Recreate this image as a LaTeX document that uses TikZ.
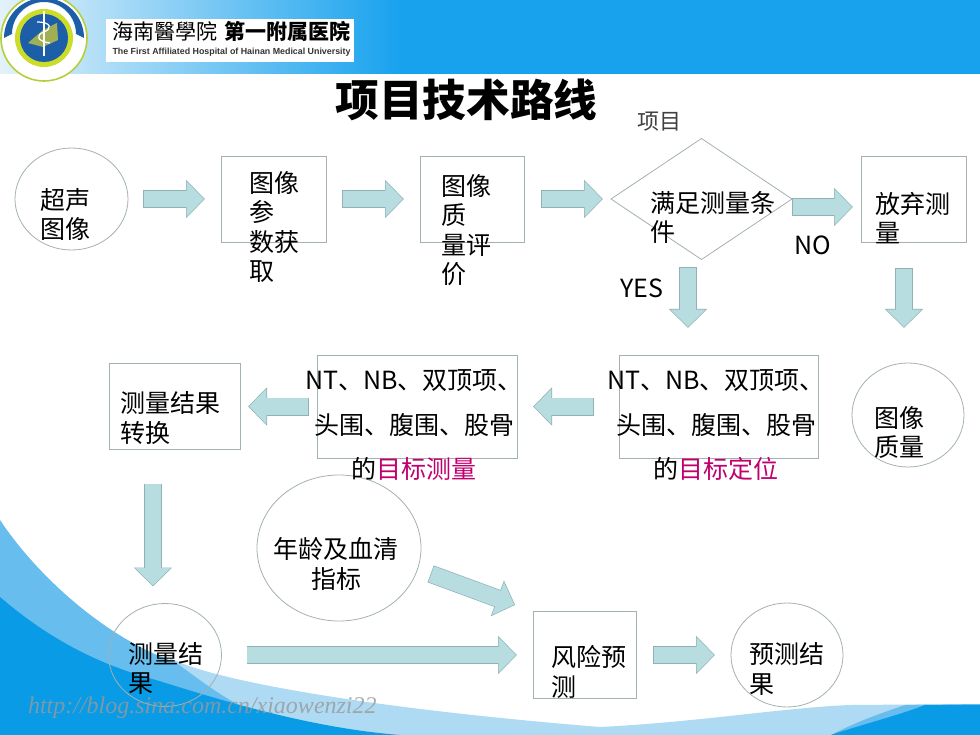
\documentclass[tikz,border=0pt]{standalone}
\usepackage{fontspec}
\setmainfont{Noto Sans CJK SC}
\newfontfamily\latinfont{Liberation Sans}
\newfontfamily\markfont{Liberation Serif}
\usepackage{xcolor}
\usetikzlibrary{arrows.meta,positioning,shapes.geometric}
\definecolor{flowfill}{HTML}{B7DDE0}
\definecolor{flowedge}{HTML}{8FB3B5}
\definecolor{lineedge}{HTML}{A3B1B1}
\definecolor{headblue}{HTML}{18A2EE}
\definecolor{headpale}{HTML}{E4F2FA}
\definecolor{wavepale}{HTML}{AEDAF4}
\definecolor{wavemid}{HTML}{66BDEE}
\definecolor{wavedeep}{HTML}{0A9BE6}
\definecolor{keypink}{HTML}{C0006E}
\definecolor{badgeblue}{HTML}{1C5FA8}
\definecolor{badgelime}{HTML}{B5CF3A}

\begin{document}
\begin{tikzpicture}[
    x=1pt, y=-1pt,
    outer sep=0pt,
    boxnode/.style={draw=lineedge, line width=0.8pt, inner sep=0pt, fill=white},
    circnode/.style={ellipse, draw=lineedge, line width=0.8pt, inner sep=0pt},
    txt/.style={inner sep=0pt, anchor=west, align=left, font=\fontsize{25}{29.5}\selectfont},
    mid/.style={inner sep=0pt, align=center, font=\fontsize{25}{44.5}\selectfont},
    flow/.style 2 args={
      line width=16.6pt, draw=flowfill, line cap=butt,
      shorten <=#1+0.7pt, shorten >=#2+1pt,
      -{Triangle[length=17.3pt, width=33.7pt]},
      preaction={draw=flowedge, line width=18pt, shorten <=#1, shorten >=#2,
        -{Triangle[length=19pt, width=37pt]}},
    },
  ]
  \useasboundingbox (0,0) rectangle (980,735);

  % header band
  \fill[headblue] (400,0) rectangle (980,74);
  \shade[left color=headpale, right color=headblue, shading angle=90] (0,0) rectangle (400,74);
  \node[fill=white, minimum width=248pt, minimum height=43pt, inner sep=0pt] (brand) at (230,40.5) {};
  \node[inner sep=0pt, anchor=west, font=\fontsize{21}{21}\itshape\selectfont] (brandcn) at (112,31)
    {海南醫學院};
  \node[inner sep=0pt, anchor=west, font=\fontsize{21}{21}\bfseries\selectfont] (brandcnb) at (224,31)
    {第一附属医院};
  \node[inner sep=0pt, anchor=west, font=\latinfont\bfseries\fontsize{8.85}{9}\selectfont, text=black!80] (branden) at (112.5,52.5)
    {The First Affiliated Hospital of Hainan Medical University};

  % badge
  \fill[white] (44,38) circle (43);
  \draw[badgelime, line width=1.6pt] (44,38) circle (43);
  \fill[badgeblue] (4,38) arc[start angle=180, end angle=360, radius=40] -- (76,34) arc[start angle=0, end angle=-180, radius=32] -- cycle;
  \fill[white] (44,38) circle (31);
  \fill[badgelime!70!yellow] (44,38) circle (29);
  \fill[badgeblue] (44,38) circle (24);
  \fill[badgelime!60!gray] (28,43) -- (43,30) -- (57,23) -- (58,40) -- (43,47) -- cycle;
  \draw[white, line width=2.2pt] (44,11) -- (44,56);
  \draw[white, line width=1.2pt] (37,22) .. controls (52,22) and (52,29) .. (44,32) .. controls (36,35) and (36,41) .. (50,43);

  % bottom waves
  \fill[wavepale] (170,658) .. controls (200,675) and (330,705) .. (600,727)
    .. controls (700,722) and (780,708) .. (850,705) -- (980,704) -- (980,735) -- (170,735) -- cycle;
  \fill[wavemid] (0,520) .. controls (40,580) and (110,640) .. (175,662)
    .. controls (200,680) and (225,700) .. (260,716) -- (260,735) -- (0,735) -- cycle;
  \fill[wavemid] (831,735) .. controls (860,720) and (885,712) .. (905,705) -- (980,704) -- (980,735) -- cycle;
  \fill[wavedeep] (0,597) .. controls (50,640) and (100,665) .. (156,680)
    .. controls (220,700) and (310,728) .. (400,735) -- (0,735) -- cycle;
  \fill[wavedeep] (831,735) .. controls (860,725) and (900,715) .. (925,705) -- (980,705) -- (980,735) -- cycle;

  % title
  \node[inner sep=0pt, font=\fontsize{43.7}{44}\bfseries\selectfont] (title) at (466.5,100) {项目技术路线};
  \node[inner sep=0pt, text=black!75, font=\fontsize{22}{22}\selectfont] (item) at (659,122) {项目};

  % top row
  \node[circnode, minimum width=113pt, minimum height=102pt] (sono) at (71.5,199) {};
  \node[boxnode, minimum width=105pt, minimum height=86pt, right=93pt of sono] (param) {};
  \node[boxnode, minimum width=104pt, minimum height=86pt, right=94pt of param] (qual) {};
  \node[diamond, aspect=1.5, draw=lineedge, line width=0.8pt, inner sep=0pt, minimum width=181pt, minimum height=121pt, right=87pt of qual] (cond) {};
  \node[boxnode, minimum width=105pt, minimum height=86pt] (giveup) at (913.5,199) {};
  \node[circnode, minimum width=112pt, minimum height=104pt] (imgq) at (908,415) {};

  % middle row
  \node[boxnode, minimum width=199pt, minimum height=103pt] (locate) at (718.5,406.5) {};
  \node[boxnode, minimum width=200pt, minimum height=103pt, left=102pt of locate] (meas) {};
  \node[boxnode, minimum width=131pt, minimum height=86pt, left=77pt of meas] (conv) {};

  % bottom row
  \node[circnode, minimum width=113pt, minimum height=103pt] (res) at (165,655) {};
  \node[circnode, minimum width=164pt, minimum height=146pt] (age) at (339,548) {};
  \node[boxnode, minimum width=103pt, minimum height=87pt] (risk) at (584.5,655) {};
  \node[circnode, minimum width=112pt, minimum height=104pt, right=95pt of risk] (pred) {};

  % connectors
  \foreach \a/\b/\s/\e in {sono/param/15/16, param/qual/16/16, qual/cond/17/8, locate/meas/25/16, meas/conv/8/8, res/risk/25/16, risk/pred/17/16}
    \draw[flow={\s pt}{\e pt}] (\a) -- (\b);
  \draw[flow={0pt}{8pt}] ([yshift=-8pt]cond.east) -- ([yshift=-8pt]giveup.west);
  \draw[flow={8pt}{27pt}] ([xshift=-13.5pt]cond.south) -- ([xshift=-30.5pt]locate.north);
  \draw[flow={26pt}{35pt}] ([xshift=-9.5pt]giveup.south) -- ([xshift=-4pt]imgq.north);
  \draw[flow={34pt}{17pt}] ([xshift=-21.5pt]conv.south) -- ([xshift=-12pt]res.north);
  \draw[flow={14pt}{19pt}] (age.-15) -- (risk.north west);

  % labels
  \node[txt] (sonotxt) at (40,214.5) {超声\\图像};
  \node[txt] (paramtxt) at (249,227) {图像\\参\\数获\\取};
  \node[txt] (qualtxt) at (441,230) {图像\\质\\量评\\价};
  \node[txt] (condtxt) at (650,217.5) {满足测量条\\件};
  \node[txt] (giveuptxt) at (875,218) {放弃测\\量};
  \node[txt] (notxt) at (794,245) {NO};
  \node[txt] (yestxt) at (620,288) {YES};
  \node[txt] (imgqtxt) at (874,432.5) {图像\\质量};
  \node[mid] (locatetxt) at (716,425.5) {NT、NB、双顶项、\\头围、腹围、股骨\\的\textcolor{keypink}{目标定位}};
  \node[mid] (meastxt) at (414,425.5) {NT、NB、双顶项、\\头围、腹围、股骨\\的\textcolor{keypink}{目标测量}};
  \node[txt] (convtxt) at (120,418) {测量结果\\转换};
  \node[txt, anchor=center, align=center] (agetxt) at (336,564) {年龄及血清\\指标};
  \node[txt] (restxt) at (128,668.5) {测量结\\果};
  \node[txt] (risktxt) at (551,672) {风险预\\测};
  \node[txt] (predtxt) at (749,669) {预测结\\果};

  % watermark
  \node[inner sep=0pt, anchor=west, text=black!40, opacity=0.8, font=\markfont\itshape\fontsize{24}{24}\selectfont] (mark) at (28,708) {http://blog.sina.com.cn/xiaowenzi22};
\end{tikzpicture}
\end{document}
